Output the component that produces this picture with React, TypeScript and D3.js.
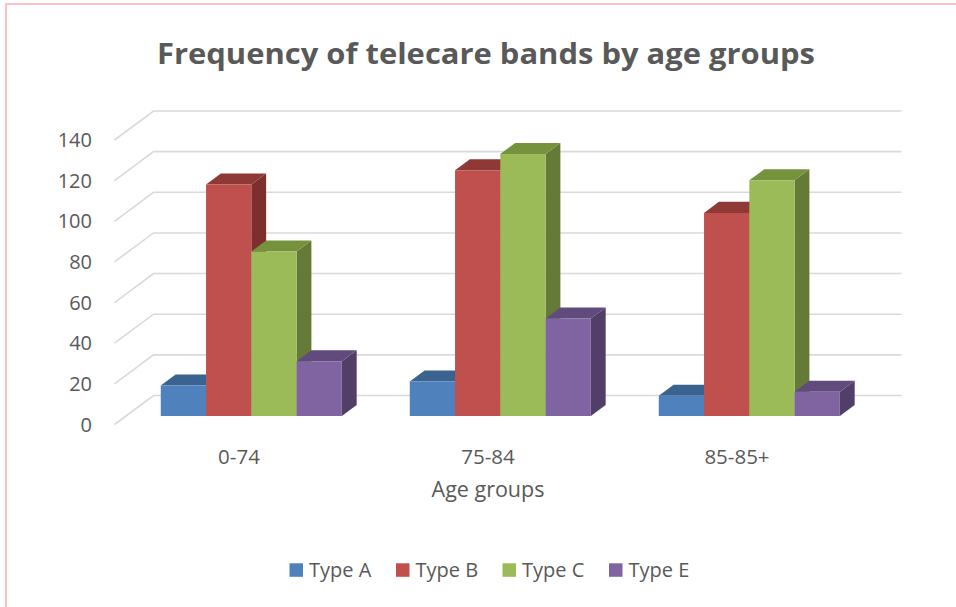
import React from "react";
import * as d3 from "d3";

// Chart data
const categories = ["0-74", "75-84", "85-85+"];
const seriesNames = ["Type A", "Type B", "Type C", "Type E"];
const typeA = [15, 17, 10];
const typeB = [114, 121, 100];
const typeC = [81, 129, 116];
const typeE = [27, 48, 12];
const yTicks = [0, 20, 40, 60, 80, 100, 120, 140];

const seriesValues = [typeA, typeB, typeC, typeE];

// Face colours per series: front, top, side
const faceColors = [
  { front: "#4F81BD", top: "#3A6390", side: "#2F5179" },
  { front: "#C0504D", top: "#8F3937", side: "#7C2F2D" },
  { front: "#9BBB59", top: "#77923D", side: "#667A38" },
  { front: "#8064A2", top: "#614B7C", side: "#523F68" },
];

const W = 956;
const H = 607;
const TEXT = "#595959";
const FONT = "'Open Sans', 'Liberation Sans', sans-serif";

// Oblique projection of the depth axis (full floor depth)
const DEPTH_X = 39;
const DEPTH_Y = -29;
// Bars sit between these fractions of the depth
const BAR_T0 = 0.29;
const BAR_T1 = 0.67;
// Left edge of the side wall at the front
const WALL_X = 114.5;

export default function App() {
  const x = d3.scaleBand<string>().domain(categories).range([115.5, 862.5]).paddingInner(0).paddingOuter(0);
  const xs = d3
    .scaleBand<string>()
    .domain(seriesNames)
    .range([0, x.bandwidth()])
    .paddingInner(0)
    .paddingOuter(0.75);
  const y = d3.scaleLinear().domain([0, 140]).range([424.5, 140]);

  const proj = (px: number, py: number, t: number): [number, number] => [px + DEPTH_X * t, py + DEPTH_Y * t];
  const poly = (pts: [number, number][]) => pts.map((p) => p.join(",")).join(" ");

  const xRight = x.range()[1];

  const bars: React.ReactNode[] = [];
  categories.forEach((cat, ci) => {
    seriesNames.forEach((s, si) => {
      const v = seriesValues[si][ci];
      const x0 = (x(cat) ?? 0) + (xs(s) ?? 0);
      const x1 = x0 + xs.bandwidth();
      const yTop = y(v);
      const yBot = y(0);
      const c = faceColors[si];
      const fTL = proj(x0, yTop, BAR_T0);
      const fTR = proj(x1, yTop, BAR_T0);
      const fBL = proj(x0, yBot, BAR_T0);
      const fBR = proj(x1, yBot, BAR_T0);
      const bTL = proj(x0, yTop, BAR_T1);
      const bTR = proj(x1, yTop, BAR_T1);
      const bBR = proj(x1, yBot, BAR_T1);
      bars.push(
        <g key={`${cat}-${s}`}>
          <polygon points={poly([fTR, bTR, bBR, fBR])} fill={c.side} />
          <polygon points={poly([fTL, bTL, bTR, fTR])} fill={c.top} />
          <polygon points={poly([fTL, fTR, fBR, fBL])} fill={c.front} />
        </g>
      );
    });
  });

  const legendX = [289.5, 396, 502.5, 609];

  return (
    <svg
      width={W}
      height={H}
      viewBox={`0 0 ${W} ${H}`}
      style={{ position: "absolute", left: 0, top: 0, background: "#fff" }}
    >
      <rect x={0} y={0} width={W} height={H} fill="#fff" />
      {/* frame */}
      <line x1={5} y1={4} x2={W} y2={4} stroke="#FFC0C6" strokeWidth={2} />
      <line x1={6} y1={4} x2={6} y2={H} stroke="#FFC0C6" strokeWidth={2} />

      <text
        x={486}
        y={63.5}
        textAnchor="middle"
        fontFamily={FONT}
        fontWeight={700}
        fontSize={28}
        fill={TEXT}
        textLength={658}
        lengthAdjust="spacingAndGlyphs"
      >
        Frequency of telecare bands by age groups
      </text>

      {/* gridlines: side wall diagonals and back wall */}
      <g stroke="#D9D9D9" strokeWidth={1.6} fill="none">
        {yTicks.map((t) => {
          const [fx, fy] = proj(WALL_X, y(t), 0);
          const [bx, by] = proj(WALL_X, y(t), 1);
          const [ex] = proj(xRight, y(t), 1);
          return <polyline key={t} points={poly([[fx, fy], [bx, by], [ex, by]])} />;
        })}
      </g>

      {/* value axis labels */}
      <g fontFamily={FONT} fontSize={20} fill={TEXT} textAnchor="end">
        {yTicks.map((t) => (
          <text key={t} x={92} y={y(t)} dy="0.36em">
            {t}
          </text>
        ))}
      </g>

      {bars}

      {/* category labels */}
      <g fontFamily={FONT} fontSize={20.5} fill={TEXT} textAnchor="middle">
        {categories.map((c) => (
          <text key={c} x={(x(c) ?? 0) + x.bandwidth() / 2 - 1} y={463.5}>
            {c}
          </text>
        ))}
      </g>

      <text x={488} y={497} textAnchor="middle" fontFamily={FONT} fontSize={21.5} fill={TEXT}>
        Age groups
      </text>

      {/* legend */}
      <g fontFamily={FONT} fontSize={20} fill={TEXT}>
        {seriesNames.map((s, i) => (
          <g key={s}>
            <rect x={legendX[i]} y={563.3} width={13.5} height={13.5} fill={faceColors[i].front} />
            <text x={legendX[i] + 19.5} y={577}>
              {s}
            </text>
          </g>
        ))}
      </g>
    </svg>
  );
}
